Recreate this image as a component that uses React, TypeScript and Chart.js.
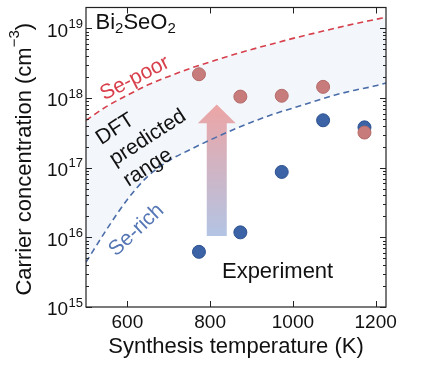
import React, { useEffect, useRef } from 'react';
import { Chart, registerables } from 'chart.js';

Chart.register(...registerables);

// ---- Data ----
const curveTemps = [500, 550, 600, 650, 700, 750, 800, 850, 900, 950, 1000, 1050, 1100, 1150, 1200, 1225];
const sePoorLimit = [4.8e17, 7.6e17, 1.1e18, 1.55e18, 2.05e18, 2.65e18, 3.3e18, 4.1e18, 5.0e18, 6.0e18, 7.2e18, 8.5e18, 1.0e19, 1.17e19, 1.35e19, 1.45e19];
const seRichLimit = [4.4e15, 1.3e16, 3.5e16, 7.6e16, 1.26e17, 1.8e17, 2.5e17, 3.4e17, 4.5e17, 5.8e17, 7.2e17, 8.9e17, 1.1e18, 1.3e18, 1.5e18, 1.65e18];

const expTemps = [773, 873, 973, 1073, 1173];
const expSePoor = [2.2e18, 1.05e18, 1.08e18, 1.45e18, 3.2e17];
const expSeRich = [6.2e15, 1.18e16, 8.7e16, 4.8e17, 3.8e17];

const xTickValues = [600, 800, 1000, 1200];
const yTickExponents = [15, 16, 17, 18, 19];

const X_MIN = 500;
const X_MAX = 1225;
const Y_MIN = 1e15;
const Y_MAX = 2e19;

// arrow (data units): temperature, bottom, head base, tip
const arrowTemp = 816;
const arrowLevels = [1.05e16, 4.35e17, 8.1e17];

const FONT = '"Liberation Sans", Arial, Helvetica, sans-serif';

function drawPieces(
  ctx: CanvasRenderingContext2D,
  pieces: { t: string; size: number; dy: number }[],
  x: number,
  y: number,
  align: 'left' | 'center' | 'right'
) {
  let total = 0;
  for (const p of pieces) {
    ctx.font = `${p.size}px ${FONT}`;
    total += ctx.measureText(p.t).width;
  }
  let cx = align === 'left' ? x : align === 'center' ? x - total / 2 : x - total;
  ctx.textAlign = 'left';
  ctx.textBaseline = 'alphabetic';
  for (const p of pieces) {
    ctx.font = `${p.size}px ${FONT}`;
    ctx.fillText(p.t, cx, y + p.dy);
    cx += ctx.measureText(p.t).width;
  }
}

function drawArrow(chart: any) {
  const ctx: CanvasRenderingContext2D = chart.ctx;
  const xs = chart.scales.x;
  const ys = chart.scales.y;
  const cx = xs.getPixelForValue(arrowTemp);
  const yBot = ys.getPixelForValue(arrowLevels[0]);
  const yBase = ys.getPixelForValue(arrowLevels[1]);
  const yTip = ys.getPixelForValue(arrowLevels[2]);
  const shaft = 10;
  const head = 19;
  ctx.save();
  const g = ctx.createLinearGradient(0, yBot, 0, yTip);
  g.addColorStop(0, '#b3c4e4');
  g.addColorStop(1, '#eca5a5');
  ctx.fillStyle = g;
  ctx.beginPath();
  ctx.moveTo(cx - shaft, yBot);
  ctx.lineTo(cx - shaft, yBase);
  ctx.lineTo(cx - head, yBase);
  ctx.lineTo(cx, yTip);
  ctx.lineTo(cx + head, yBase);
  ctx.lineTo(cx + shaft, yBase);
  ctx.lineTo(cx + shaft, yBot);
  ctx.closePath();
  ctx.fill();
  ctx.restore();
}

const decorPlugin = {
  id: 'decor',
  beforeDatasetDraw(chart: any, args: any) {
    // first dataset drawn (the Se-poor curve, highest order) -> arrow goes under all lines/points
    if (args.index === 0) drawArrow(chart);
  },
  afterDraw(chart: any) {
    const ctx: CanvasRenderingContext2D = chart.ctx;
    const { left, right, top, bottom } = chart.chartArea;
    const xs = chart.scales.x;
    const ys = chart.scales.y;
    ctx.save();

    // frame
    ctx.strokeStyle = '#222';
    ctx.lineWidth = 1.2;
    ctx.strokeRect(left, top, right - left, bottom - top);

    // ticks
    ctx.lineWidth = 1;
    ctx.beginPath();
    for (const e of yTickExponents) {
      for (let m = 1; m <= 9; m++) {
        const v = m * Math.pow(10, e);
        if (v < Y_MIN || v >= Y_MAX) continue;
        const y = Math.round(ys.getPixelForValue(v)) + 0.5;
        const len = m === 1 ? 6 : 3;
        ctx.moveTo(left, y);
        ctx.lineTo(left + len, y);
        ctx.moveTo(right, y);
        ctx.lineTo(right - len, y);
      }
    }
    for (const t of xTickValues) {
      const x = Math.round(xs.getPixelForValue(t)) + 0.5;
      ctx.moveTo(x, bottom);
      ctx.lineTo(x, bottom - 6);
      ctx.moveTo(x, top);
      ctx.lineTo(x, top + 6);
    }
    ctx.stroke();

    ctx.fillStyle = '#111';
    // y tick labels 10^e
    for (const e of yTickExponents) {
      const y = ys.getPixelForValue(Math.pow(10, e));
      ctx.font = `13px ${FONT}`;
      const ew = ctx.measureText(String(e)).width;
      const xr = left - 3;
      ctx.textAlign = 'left';
      ctx.textBaseline = 'alphabetic';
      ctx.fillText(String(e), xr - ew, y - 0.5);
      ctx.font = `19px ${FONT}`;
      ctx.textAlign = 'right';
      ctx.fillText('10', xr - ew - 0.5, y + 8.3);
    }
    // x tick labels
    ctx.font = `19px ${FONT}`;
    ctx.textAlign = 'center';
    ctx.textBaseline = 'alphabetic';
    for (const t of xTickValues) {
      ctx.fillText(String(t), xs.getPixelForValue(t), bottom + 20.5);
    }

    // axis titles
    ctx.font = `22px ${FONT}`;
    ctx.textAlign = 'center';
    ctx.fillText('Synthesis temperature (K)', (left + right) / 2, bottom + 46);

    ctx.save();
    ctx.translate(31, (top + bottom) / 2 + 2);
    ctx.rotate(-Math.PI / 2);
    drawPieces(
      ctx,
      [
        { t: 'Carrier concentration (cm', size: 22, dy: 0 },
        { t: '\u22123', size: 15, dy: -12 },
        { t: ')', size: 22, dy: 0 },
      ],
      0,
      0,
      'center'
    );
    ctx.restore();

    // Bi2SeO2 label
    ctx.fillStyle = '#111';
    drawPieces(
      ctx,
      [
        { t: 'Bi', size: 22, dy: 0 },
        { t: '2', size: 15, dy: 4 },
        { t: 'SeO', size: 22, dy: 0 },
        { t: '2', size: 15, dy: 4 },
      ],
      xs.getPixelForValue(523),
      ys.getPixelForValue(9.8e18),
      'left'
    );

    const rotText = (s: string, x: number, y: number, deg: number, color: string, size: number, align: CanvasTextAlign) => {
      ctx.save();
      ctx.translate(x, y);
      ctx.rotate((deg * Math.PI) / 180);
      ctx.fillStyle = color;
      ctx.font = `${size}px ${FONT}`;
      ctx.textAlign = align;
      ctx.textBaseline = 'middle';
      ctx.fillText(s, 0, 0);
      ctx.restore();
    };
    rotText('Se-poor', xs.getPixelForValue(618), ys.getPixelForValue(1.92e18), -27, '#d8404c', 21, 'center');
    rotText('Se-rich', xs.getPixelForValue(622), ys.getPixelForValue(1.27e16), -43, '#5677b5', 21, 'center');

    // DFT predicted range block
    const ox = xs.getPixelForValue(529);
    const oy = ys.getPixelForValue(2.48e17);
    const ang = (-33 * Math.PI) / 180;
    const lines = ['DFT', 'predicted', 'range'];
    lines.forEach((s, i) => {
      const d = 25 * i;
      const px = ox + -Math.sin(ang) * d;
      const py = oy + Math.cos(ang) * d;
      rotText(s, px, py, -33, '#111', 21, 'left');
    });

    // Experiment
    ctx.fillStyle = '#111';
    ctx.font = `22px ${FONT}`;
    ctx.textAlign = 'center';
    ctx.textBaseline = 'middle';
    ctx.fillText('Experiment', xs.getPixelForValue(963), ys.getPixelForValue(3.24e15));

    ctx.restore();
  },
};

export default function App() {
  const ref = useRef<HTMLCanvasElement | null>(null);
  useEffect(() => {
    if (!ref.current) return;
    const chart = new Chart(ref.current, {
      type: 'scatter',
      data: {
        datasets: [
          {
            type: 'line',
            label: 'Se-poor limit',
            data: curveTemps.map((t, i) => ({ x: t, y: sePoorLimit[i] })),
            borderColor: '#d63f4b',
            borderWidth: 1.6,
            borderDash: [6, 4],
            pointRadius: 0,
            cubicInterpolationMode: 'monotone',
            fill: false,
            order: 3,
          } as any,
          {
            type: 'line',
            label: 'Se-rich limit',
            data: curveTemps.map((t, i) => ({ x: t, y: seRichLimit[i] })),
            borderColor: '#4a6daa',
            borderWidth: 1.6,
            borderDash: [6, 4],
            pointRadius: 0,
            cubicInterpolationMode: 'monotone',
            fill: '-1',
            backgroundColor: '#f3f6fb',
            order: 2,
          } as any,
          {
            label: 'Experiment (Se-poor)',
            data: expTemps.map((t, i) => ({ x: t, y: expSePoor[i] })),
            pointRadius: 6.5,
            backgroundColor: '#c77c7b',
            borderColor: '#b46b6a',
            borderWidth: 1,
            order: 0,
          },
          {
            label: 'Experiment (Se-rich)',
            data: expTemps.map((t, i) => ({ x: t, y: expSeRich[i] })),
            pointRadius: 6.5,
            backgroundColor: '#3b63a6',
            borderColor: '#2d5290',
            borderWidth: 1,
            order: 1,
          },
        ],
      },
      options: {
        animation: false,
        responsive: false,
        events: [],
        layout: { padding: { left: 86, right: 36, top: 5, bottom: 63 } },
        plugins: {
          legend: { display: false },
          tooltip: { enabled: false },
          filler: { drawTime: 'beforeDatasetsDraw', propagate: false },
        },
        scales: {
          x: { type: 'linear', min: X_MIN, max: X_MAX, display: false },
          y: { type: 'logarithmic', min: Y_MIN, max: Y_MAX, display: false },
        },
      } as any,
      plugins: [decorPlugin],
    });
    return () => chart.destroy();
  }, []);
  return (
    <div style={{ position: 'fixed', left: 0, top: 0, width: 422, height: 370, background: '#fff' }}>
      <canvas ref={ref} width={422} height={370} style={{ display: 'block' }} />
    </div>
  );
}
